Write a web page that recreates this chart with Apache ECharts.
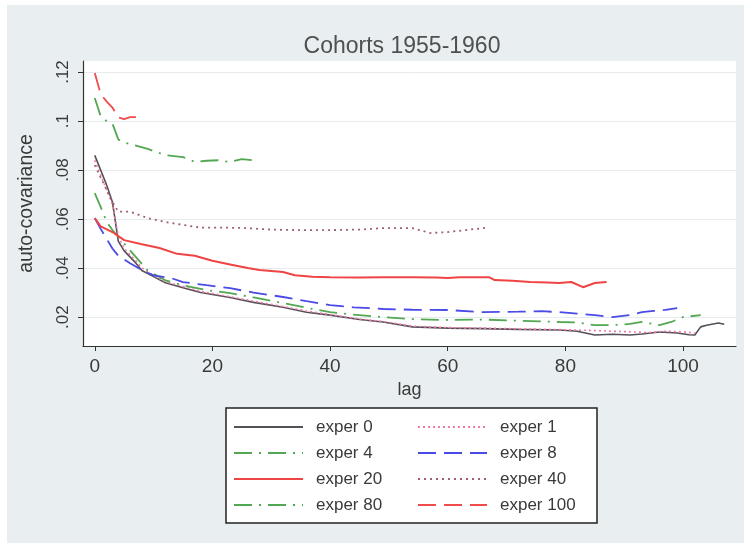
<!DOCTYPE html>
<html>
<head>
<meta charset="utf-8">
<script src="https://cdn.jsdelivr.net/npm/echarts@6/dist/echarts.min.js"></script>
<style>
html,body{margin:0;padding:0;background:#fff;}
#chart{width:744px;height:543px;}
</style>
</head>
<body>
<div id="chart"></div>
<script>
// tick labels
var xTicks = [0, 20, 40, 60, 80, 100];
var yTicks = [0.02, 0.04, 0.06, 0.08, 0.1, 0.12];

var seriesNames = ['exper 0', 'exper 1', 'exper 4', 'exper 8', 'exper 20', 'exper 40', 'exper 80', 'exper 100'];

// [lag, auto-covariance]
var exper0 = [[0,.086],[1,.080],[2,.074],[3,.067],[4,.051],[5,.047],[7,.042],[8,.039],[10,.0365],[12,.034],[15,.032],[18,.030],[23,.028],[27,.026],[32,.024],[36,.022],[40,.0208],[45,.019],[49,.018],[54,.016],[60,.0155],[66,.0153],[72,.015],[79,.0147],[82,.0142],[85,.0127],[88,.013],[91,.0127],[93,.0131],[96,.0139],[99,.0135],[101,.0128],[102,.0127],[103,.016],[104,.0167],[106,.0176],[107,.0171]];
var exper1 = [[0,.084],[1,.078],[2,.072],[3,.066],[4,.053],[5,.048],[7,.043],[8,.040],[10,.037],[12,.0345],[15,.0325],[18,.0305],[23,.0283],[27,.0265],[32,.0243],[36,.0225],[40,.021],[45,.0192],[49,.0182],[54,.0163],[60,.0157],[66,.0155],[72,.0152],[79,.0149],[82,.0147],[85,.0145],[88,.0142],[91,.014],[94,.0137],[97,.0142],[100,.014],[102,.0135]];
var exper4 = [[0,.0706],[1,.065],[2,.059],[3,.0555],[5,.050],[7,.0445],[9,.039],[12,.035],[15,.033],[19,.031],[23,.0298],[27,.028],[32,.0257],[36,.0238],[40,.022],[44,.021],[49,.020],[54,.0192],[60,.0188],[66,.019],[72,.0185],[79,.018],[82,.0178],[85,.0167],[88,.0167],[91,.0172],[93,.018],[96,.0167],[98,.018],[100,.020],[103,.0208]];
var exper8 = [[0,.0604],[1,.056],[2,.052],[3,.048],[4,.045],[6,.042],[8,.0392],[10,.037],[13,.0359],[15,.0343],[19,.033],[23,.0318],[27,.030],[32,.0282],[36,.0265],[40,.0249],[44,.024],[49,.0233],[54,.023],[60,.0229],[66,.022],[72,.0222],[76,.0224],[79,.022],[82,.0214],[85,.0208],[88,.020],[91,.0208],[93,.022],[95,.0225],[97,.0229],[99,.0237]];
var exper20 = [[0,.0604],[1,.057],[3,.0547],[5,.0514],[8,.0497],[11,.0482],[14,.0458],[17,.045],[20,.043],[23,.0415],[26,.040],[28,.0392],[32,.0384],[34,.0371],[37,.0365],[40,.0363],[45,.0362],[49,.0363],[54,.0363],[58,.0362],[60,.0359],[62,.0363],[67,.0363],[68,.0351],[71,.0348],[74,.0343],[77,.0341],[79,.0339],[81,.0343],[83,.0322],[85,.0339],[87,.0343]];
var exper40 = [[0,.082],[1,.077],[2,.072],[3,.067],[4,.063],[6,.063],[9,.0604],[12,.0588],[15,.0576],[18,.0565],[22,.0565],[26,.0563],[30,.0557],[35,.0555],[40,.0555],[45,.0557],[49,.0563],[54,.0563],[57,.0543],[60,.0547],[63,.0555],[66,.0563],[67,.0565]];
var exper80 = [[0,.1094],[1,.102],[2,.100],[3,.099],[4,.0925],[5,.0912],[7,.090],[9,.0886],[12,.0861],[15,.0853],[17,.0833],[19,.0838],[21,.084],[23,.0833],[25,.0845],[27,.084]];
var exper100 = [[0,.1196],[1,.111],[2,.108],[3,.1055],[4,.1015],[5,.1008],[6,.1016],[7,.1016]];

var allData = [exper0, exper1, exper4, exper8, exper20, exper40, exper80, exper100];
var lineColors = ['#555058', '#f27aa8', '#52a852', '#4a4ae6', '#f04444', '#a0606e', '#52a852', '#f04c4c'];
var lineTypes = ['solid', [2, 3], [18, 7, 2, 7], [18, 8], 'solid', [2, 4], [18, 7, 2, 7], [18, 8]];
var lineWidths = [1.6, 1.6, 1.8, 1.8, 2, 1.8, 1.8, 1.8];

var FONT = 'Liberation Sans, Arial, sans-serif';
var TXT = '#3a3a3a';

var chart = echarts.init(document.getElementById('chart'));

var series = seriesNames.map(function(name, i){
	return {
		name: name,
		type: 'line',
		data: allData[i],
		symbol: 'none',
		animation: false,
		lineStyle: {color: lineColors[i], width: lineWidths[i], type: lineTypes[i]},
		itemStyle: {color: lineColors[i]}
	};
});

var legendText = {fontFamily: FONT, fontSize: 17, color: TXT, lineHeight: 18, padding: [0, 0, 0, 8]};

chart.setOption({
	backgroundColor: '#e9eff1',
	animation: false,
	title: {
		text: 'Cohorts 1955-1960',
		left: 397,
		top: 30,
		textAlign: 'center',
		textStyle: {fontFamily: FONT, fontSize: 23, fontWeight: 'normal', color: '#505050'}
	},
	graphic: [
		{type: 'rect', shape: {x: 0, y: 0, width: 744, height: 5}, style: {fill: '#fff'}, silent: true},
		{type: 'rect', shape: {x: 0, y: 0, width: 7, height: 543}, style: {fill: '#fff'}, silent: true},
		{type: 'rect', shape: {x: 226, y: 408, width: 371, height: 115}, style: {fill: '#fff', stroke: '#222', lineWidth: 1.5}, silent: true}
	],
	legend: [
		{
			data: ['exper 0', 'exper 4', 'exper 20', 'exper 80'],
			orient: 'vertical', left: 233, top: 418, padding: 0,
			itemWidth: 69, itemHeight: 18, itemGap: 8,
			itemStyle: {opacity: 0},
			textStyle: legendText, selectedMode: false
		},
		{
			data: ['exper 1', 'exper 8', 'exper 40', 'exper 100'],
			orient: 'vertical', left: 417, top: 418, padding: 0,
			itemWidth: 69, itemHeight: 18, itemGap: 8,
			itemStyle: {opacity: 0},
			textStyle: legendText, selectedMode: false
		}
	],
	grid: {
		left: 83, right: 8, top: 61, bottom: 197,
		show: true, backgroundColor: '#fff', borderWidth: 0
	},
	xAxis: {
		type: 'value',
		min: -2, max: 109,
		name: 'lag',
		nameLocation: 'middle',
		nameGap: 30,
		nameTextStyle: {fontFamily: FONT, fontSize: 18, color: TXT},
		axisLine: {show: true, onZero: false, lineStyle: {color: '#333', width: 1.2}},
		axisTick: {show: true, length: 5, customValues: xTicks, lineStyle: {color: '#333'}},
		axisLabel: {customValues: xTicks, margin: 11, fontFamily: FONT, fontSize: 19, color: TXT},
		splitLine: {show: false}
	},
	yAxis: {
		type: 'value',
		min: 0.0082, max: 0.1245,
		name: 'auto-covariance',
		nameLocation: 'middle',
		nameGap: 46,
		nameTextStyle: {fontFamily: FONT, fontSize: 19.5, color: TXT},
		axisLine: {show: true, onZero: false, lineStyle: {color: '#333', width: 1.2}},
		axisTick: {show: true, length: 5, customValues: yTicks, lineStyle: {color: '#333'}},
		axisLabel: {
			customValues: yTicks, rotate: 90, margin: 11,
			fontFamily: FONT, fontSize: 17, color: TXT,
			formatter: function(v){ return String(v).replace(/^0/, ''); }
		},
		splitLine: {show: true, lineStyle: {color: '#e6ecee', width: 1}}
	},
	series: series
});
</script>
</body>
</html>
